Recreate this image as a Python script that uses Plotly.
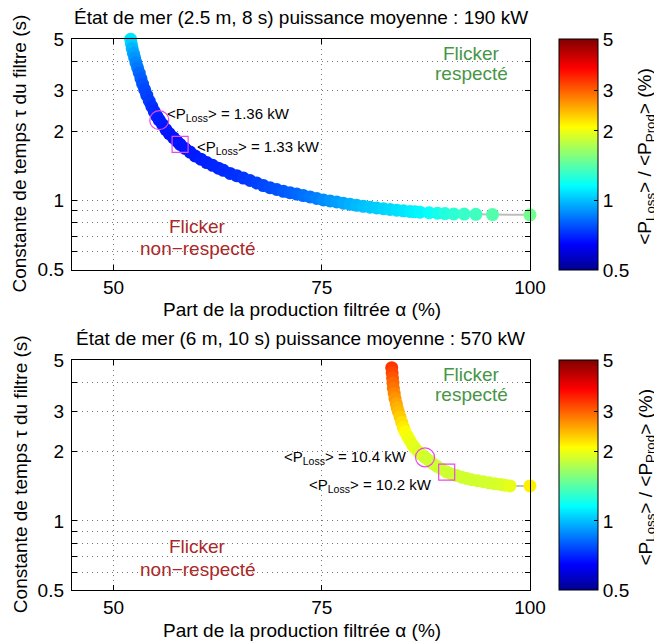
import numpy as np
import plotly.graph_objects as go

# ---------------- data ----------------
# Top panel: sea state (2.5 m, 8 s), mean power 190 kW
top_alpha = [52.06, 52.15, 52.25, 52.4, 52.55, 52.7, 52.9, 53.1, 53.3, 53.5,
             53.75, 54.0, 54.3, 54.6, 54.9, 55.2, 55.5, 55.9, 56.3, 56.7,
             57.2, 57.6, 58.0, 58.6, 59.2, 59.8, 60.5, 61.2, 61.9, 62.6,
             63.2, 64.0, 64.8, 65.6, 66.4, 67.2, 68.0, 68.8, 69.6, 70.4,
             71.2, 72.0, 72.8, 73.6, 74.4, 75.2, 76.0, 76.8, 77.6, 78.4,
             79.2, 80.0, 80.8, 81.6, 82.4, 83.2, 84.0, 84.8, 85.6, 86.2,
             86.8, 87.9, 88.9, 89.8, 90.85, 92.1, 93.5, 95.5, 100.0]
top_tau = [5.00, 4.78, 4.56, 4.35, 4.15, 3.96, 3.76, 3.57, 3.38, 3.20,
           3.02, 2.86, 2.70, 2.56, 2.43, 2.32, 2.23, 2.13, 2.03, 1.95,
           1.87, 1.81, 1.75, 1.68, 1.62, 1.56, 1.51, 1.46, 1.42, 1.38,
           1.35, 1.31, 1.28, 1.25, 1.22, 1.19, 1.16, 1.135, 1.115, 1.095,
           1.08, 1.065, 1.05, 1.035, 1.02, 1.005, 0.995, 0.985, 0.972, 0.962,
           0.952, 0.943, 0.935, 0.927, 0.92, 0.913, 0.907, 0.901, 0.896, 0.892,
           0.889, 0.884, 0.88, 0.877, 0.874, 0.872, 0.87, 0.868, 0.866]
top_ratio = [1.09, 1.03, 0.98, 0.94, 0.91, 0.88, 0.85, 0.82, 0.80, 0.78,
             0.76, 0.75, 0.74, 0.72, 0.71, 0.70, 0.69, 0.685, 0.68, 0.68,
             0.675, 0.675, 0.675, 0.675, 0.68, 0.685, 0.69, 0.695, 0.70, 0.705,
             0.71, 0.715, 0.72, 0.73, 0.74, 0.75, 0.76, 0.77, 0.78, 0.79,
             0.805, 0.82, 0.835, 0.85, 0.87, 0.89, 0.91, 0.93, 0.95, 0.97,
             0.99, 1.005, 1.02, 1.035, 1.05, 1.065, 1.08, 1.095, 1.11, 1.125,
             1.14, 1.18, 1.21, 1.25, 1.28, 1.31, 1.34, 1.40, 1.50]
top_circle = [55.5, 2.23]
top_square = [58.0, 1.75]
top_loss_labels = ["1.36 kW", "1.33 kW"]

# Bottom panel: sea state (6 m, 10 s), mean power 570 kW
bot_alpha = [83.4, 83.45, 83.5, 83.55, 83.6, 83.7, 83.8, 83.95, 84.05, 84.2,
             84.4, 84.6, 84.8, 85.0, 85.3, 85.6, 85.9, 86.2, 86.6, 87.0,
             87.4, 87.8, 88.3, 88.8, 89.4, 90.0, 90.6, 91.2, 91.8, 92.4,
             93.0, 93.7, 94.4, 95.1, 95.8, 96.5, 97.0, 97.6, 100.0]
bot_tau = [4.63, 4.40, 4.18, 3.97, 3.77, 3.58, 3.40, 3.23, 3.10, 2.98,
           2.83, 2.68, 2.55, 2.44, 2.33, 2.23, 2.14, 2.07, 2.00, 1.94,
           1.89, 1.84, 1.78, 1.73, 1.68, 1.63, 1.60, 1.575, 1.55, 1.53,
           1.51, 1.495, 1.48, 1.465, 1.45, 1.44, 1.43, 1.42, 1.42]
bot_ratio = [3.3, 3.18, 3.07, 2.96, 2.86, 2.76, 2.66, 2.56, 2.49, 2.43,
             2.34, 2.25, 2.17, 2.1, 2.04, 2.0, 1.97, 1.95, 1.92, 1.9,
             1.88, 1.87, 1.86, 1.86, 1.86, 1.86, 1.86, 1.86, 1.86, 1.87,
             1.87, 1.87, 1.88, 1.88, 1.89, 1.9, 1.92, 1.97, 2.15]
bot_circle = [87.4, 1.89]
bot_square = [90.0, 1.63]
bot_loss_labels = ["10.4 kW", "10.2 kW"]

titles = ["État de mer (2.5 m, 8 s) puissance moyenne : 190 kW",
          "État de mer (6 m, 10 s) puissance moyenne : 570 kW"]
x_ticks = [50, 75, 100]
y_ticks = [0.5, 1, 2, 3, 5]
y_minor = [0.6, 0.7, 0.8, 0.9, 4]
cb_ticks = [0.5, 1, 2, 3, 5]

# ---------------- layout helpers ----------------
PAGE_W, PAGE_H = 662, 641
OFF = 8                       # default body margin of the html page
W, H = PAGE_W - OFF, PAGE_H - OFF

def px(xp):                   # page pixel -> paper x
    return (xp - OFF) / W

def py(yp):                   # page pixel -> paper y
    return 1 - (yp - OFF) / H

FONT = "Liberation Sans, Arial, Helvetica, sans-serif"
jet = [[0.0, "rgb(0,0,143)"], [0.111, "rgb(0,0,255)"], [0.365, "rgb(0,255,255)"],
       [0.619, "rgb(255,255,0)"], [0.873, "rgb(255,0,0)"], [1.0, "rgb(128,0,0)"]]
MAG = "rgb(235,70,235)"
GREEN = "rgb(70,150,70)"
RED = "rgb(170,40,40)"

x_dom = [px(71.8), px(530.0)]
panels = [
    dict(top=39.3, bot=269.8),
    dict(top=360.0, bot=590.3),
]

fig = go.Figure()
datasets = [
    (top_alpha, top_tau, top_ratio, top_circle, top_square, top_loss_labels),
    (bot_alpha, bot_tau, bot_ratio, bot_circle, bot_square, bot_loss_labels),
]

annotations = []
for i, (ax, tau, ratio, circ, sq, labs) in enumerate(datasets):
    xa = "x" if i == 0 else "x2"
    ya = "y" if i == 0 else "y2"
    p = panels[i]
    ymid = py((p["top"] + p["bot"]) / 2)
    fig.add_trace(go.Scatter(x=ax, y=tau, mode="lines", xaxis=xa, yaxis=ya,
                             line=dict(color="rgb(190,190,190)", width=2),
                             showlegend=False, hoverinfo="skip"))
    fig.add_trace(go.Scatter(
        x=ax, y=tau, mode="markers", xaxis=xa, yaxis=ya, cliponaxis=False,
        showlegend=False,
        marker=dict(size=13, color=np.log10(ratio), colorscale=jet,
                    cmin=np.log10(0.5), cmax=np.log10(5), line=dict(width=0),
                    showscale=True,
                    colorbar=dict(x=px(559), xanchor="left", y=ymid, yanchor="middle",
                                  len=p["bot"] - p["top"], lenmode="pixels",
                                  thickness=39, thicknessmode="pixels",
                                  xpad=0, ypad=0, outlinewidth=1, outlinecolor="black",
                                  tickvals=list(np.log10(cb_ticks)),
                                  ticktext=[str(v) for v in cb_ticks],
                                  ticks="inside", ticklen=4, tickcolor="black",
                                  tickfont=dict(family=FONT, size=19, color="black")))))
    fig.add_trace(go.Scatter(x=[circ[0]], y=[circ[1]], mode="markers", xaxis=xa, yaxis=ya,
                             showlegend=False, cliponaxis=False,
                             marker=dict(symbol="circle-open", size=19, color=MAG,
                                         line=dict(width=1.2, color=MAG))))
    fig.add_trace(go.Scatter(x=[sq[0]], y=[sq[1]], mode="markers", xaxis=xa, yaxis=ya,
                             showlegend=False, cliponaxis=False,
                             marker=dict(symbol="square-open", size=16, color=MAG,
                                         line=dict(width=1.2, color=MAG))))

    # titles
    annotations.append(dict(text=titles[i], xref="paper", yref="paper",
                            x=(x_dom[0] + x_dom[1]) / 2, y=py(p["top"] - 21.3),
                            xanchor="center", yanchor="middle", showarrow=False,
                            font=dict(size=19, family=FONT, color="black")))
    annotations.append(dict(text="Part de la production filtrée α (%)", xref="paper", yref="paper",
                            x=px(302), y=py(p["bot"] + 40),
                            xanchor="center", yanchor="middle", showarrow=False,
                            font=dict(size=19, family=FONT, color="black")))
    annotations.append(dict(text="Constante de temps τ du filtre (s)", xref="paper", yref="paper",
                            x=px(20), y=py((p["top"] + p["bot"]) / 2 - 1),
                            xanchor="center", yanchor="middle", textangle=-90, showarrow=False,
                            font=dict(size=19, family=FONT, color="black")))
    annotations.append(dict(text="&lt;P<sub>Loss</sub>&gt; / &lt;P<sub>Prod</sub>&gt; (%)",
                            xref="paper", yref="paper",
                            x=px(646.5), y=py(p["top"] + 117),
                            xanchor="center", yanchor="middle", textangle=-90, showarrow=False,
                            font=dict(size=19, family=FONT, color="black")))
    # Flicker labels
    for txt, xx, yy, col in [("Flicker", 93.0, 4.34, GREEN), ("respecté", 93.0, 3.55, GREEN),
                             ("Flicker", 60.1, 0.772, RED), ("non−respecté", 60.1, 0.618, RED)]:
        annotations.append(dict(text=txt, xref=xa, yref=ya, x=xx, y=np.log10(yy),
                                xanchor="center", yanchor="middle", showarrow=False,
                                font=dict(size=19, family=FONT, color=col)))

# P_Loss labels
loss_pos = [
    ("x", "y", top_loss_labels[0], 56.2, 2.36, "left"),
    ("x", "y", top_loss_labels[1], 59.8, 1.70, "left"),
    ("x2", "y2", bot_loss_labels[0], 85.5, 1.88, "right"),
    ("x2", "y2", bot_loss_labels[1], 88.45, 1.43, "right"),
]
for xa, ya, lab, xx, yy, anc in loss_pos:
    annotations.append(dict(text="&lt;P<sub>Loss</sub>&gt; = " + lab, xref=xa, yref=ya,
                            x=xx, y=np.log10(yy), xanchor=anc, yanchor="middle",
                            showarrow=False,
                            font=dict(size=15, family=FONT, color="black")))

GRID = "rgb(120,120,120)"
def xaxis_cfg(anchor):
    return dict(domain=x_dom, range=[45, 100], tickvals=x_ticks, ticks="inside", ticklen=5,
                tickcolor="black", mirror="ticks", showline=True, linecolor="black",
                linewidth=1, showgrid=True, gridcolor=GRID, griddash="1px,4px", gridwidth=1,
                zeroline=False, anchor=anchor, ticklabelstandoff=0, automargin=False,
                tickfont=dict(family=FONT, size=19, color="black"))

def yaxis_cfg(p, anchor):
    return dict(domain=[py(p["bot"]), py(p["top"])], type="log",
                range=[np.log10(0.5), np.log10(5)], tickvals=y_ticks,
                ticktext=[str(v) for v in y_ticks], ticks="inside", ticklen=5,
                tickcolor="black", mirror="ticks", showline=True, linecolor="black",
                linewidth=1, showgrid=True, gridcolor=GRID, griddash="1px,4px", gridwidth=1,
                zeroline=False, anchor=anchor, ticklabelstandoff=3, automargin=False,
                minor=dict(tickvals=y_minor, ticks="inside", ticklen=5, tickcolor="black",
                           showgrid=True, gridcolor=GRID, griddash="1px,4px", gridwidth=1),
                tickfont=dict(family=FONT, size=19, color="black"))

fig.update_layout(
    width=W, height=H, margin=dict(l=0, r=0, t=0, b=0, pad=0, autoexpand=False),
    paper_bgcolor="white", plot_bgcolor="white",
    font=dict(family=FONT, size=19, color="black"),
    xaxis=xaxis_cfg("y"), yaxis=yaxis_cfg(panels[0], "x"),
    xaxis2=xaxis_cfg("y2"), yaxis2=yaxis_cfg(panels[1], "x2"),
    annotations=annotations, showlegend=False,
)

fig.write_html("out.html")
